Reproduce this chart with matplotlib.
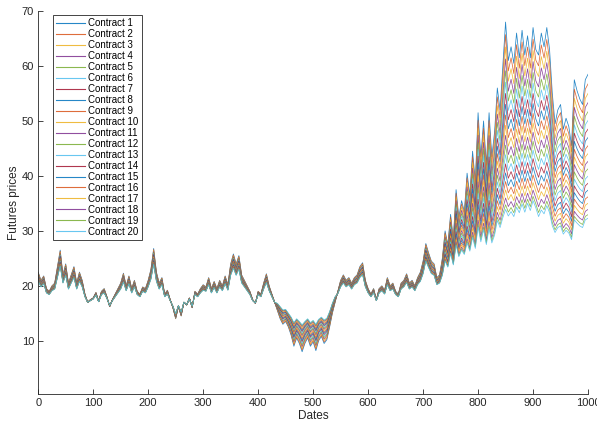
import numpy as np
import matplotlib
matplotlib.use("Agg")
import matplotlib.pyplot as plt

# Sample dates (every 5th date of the 0..1000 range)
dates = np.arange(0, 1001, 5)

# Front contract (Contract 1)
front = [
    22.5, 21.0, 21.8, 19.5, 19.0, 20.0, 20.5, 23.5, 26.5, 22.0, 24.0, 20.5, 22.0, 23.5, 20.5, 22.5, 21.0, 18.5, 17.0, 17.5,
    17.8, 18.8, 17.2, 19.0, 19.5, 18.0, 16.2, 17.5, 18.5, 19.5, 20.5, 22.3, 20.0, 21.8, 19.5, 21.0, 19.0, 18.5, 19.8, 19.5,
    21.0, 23.0, 26.8, 22.5, 20.5, 21.5, 18.5, 19.2, 17.5, 16.0, 14.0, 16.2, 14.5, 17.0, 16.5, 17.8, 16.0, 19.0, 18.5, 19.5,
    20.2, 19.8, 21.5, 19.5, 20.8, 19.5, 21.0, 20.0, 21.8, 20.2, 24.0, 25.8, 24.0, 25.5, 22.0, 21.0, 20.0, 19.0, 17.5, 16.8,
    19.0, 18.5, 20.5, 22.2, 20.0, 18.5, 17.0, 15.5, 14.0, 13.0, 13.5, 12.5, 11.0, 9.0, 10.5, 9.5, 8.0, 9.5, 10.5, 9.0,
    9.8, 8.2, 10.0, 10.8, 9.5, 10.2, 12.5, 15.0, 17.0, 19.0, 21.0, 22.0, 21.0, 21.5, 20.5, 21.5, 22.0, 23.5, 24.2, 21.0,
    19.5, 18.5, 19.5, 17.5, 19.5, 20.0, 19.2, 21.5, 20.0, 20.5, 19.0, 18.5, 20.5, 21.0, 22.2, 20.5, 21.0, 20.0, 21.5, 22.5,
    24.5, 27.7, 26.0, 24.5, 24.0, 21.5, 22.0, 25.0, 30.0, 27.5, 33.0, 28.5, 37.5, 32.5, 35.5, 33.5, 40.5, 36.5, 44.5, 39.0,
    51.5, 43.5, 50.0, 42.0, 51.5, 43.5, 48.0, 56.0, 52.0, 60.0, 68.0, 61.0, 63.5, 60.5, 66.0, 61.5, 66.5, 62.0, 65.5, 61.5,
    67.0, 63.0, 62.0, 66.0, 63.5, 67.0, 63.0, 55.0, 49.5, 52.0, 53.0, 48.5, 50.5, 49.0, 45.5, 57.5, 55.5, 54.0, 53.0, 57.5,
    58.5,
]

# Back contract (Contract 20)
back = [
    20.9, 19.8, 20.4, 18.7, 18.4, 19.1, 19.4, 21.5, 23.6, 20.5, 21.9, 19.4, 20.5, 21.5, 19.4, 20.8, 19.8, 18.0, 17.0, 17.3,
    17.6, 18.3, 17.1, 18.4, 18.7, 17.7, 16.4, 17.3, 18.0, 18.7, 19.4, 20.7, 19.1, 20.4, 18.7, 19.8, 18.4, 18.0, 19.0, 18.7,
    19.8, 21.2, 23.9, 20.8, 19.4, 20.2, 18.0, 18.5, 17.3, 16.3, 14.9, 16.4, 15.2, 17.0, 16.6, 17.6, 16.3, 18.4, 18.0, 18.7,
    19.2, 19.0, 20.2, 18.7, 19.7, 18.7, 19.8, 19.1, 20.4, 19.2, 21.9, 23.2, 21.9, 23.0, 20.5, 19.8, 19.1, 18.4, 17.3, 16.9,
    18.4, 18.0, 19.4, 20.6, 19.1, 18.0, 17.0, 16.8, 16.2, 15.6, 15.7, 15.0, 14.3, 13.3, 14.0, 13.5, 12.9, 13.5, 14.0, 13.3,
    13.7, 13.0, 13.9, 14.3, 13.8, 14.1, 15.3, 16.8, 18.0, 18.6, 19.8, 20.5, 19.8, 20.2, 19.4, 20.2, 20.5, 21.5, 22.0, 19.8,
    18.7, 18.0, 18.7, 17.3, 18.7, 19.1, 18.5, 20.2, 19.1, 19.4, 18.4, 18.0, 19.4, 19.8, 20.6, 19.4, 19.8, 19.1, 20.2, 20.8,
    22.2, 24.5, 23.3, 22.2, 21.9, 20.2, 20.5, 21.9, 24.5, 23.4, 25.9, 23.8, 27.4, 25.3, 26.5, 25.7, 27.8, 26.3, 28.8, 26.8,
    30.7, 28.0, 30.2, 27.5, 30.4, 27.8, 29.2, 31.9, 30.6, 32.4, 33.9, 32.7, 33.5, 32.6, 34.3, 33.3, 34.9, 33.4, 35.0, 33.7,
    35.5, 34.2, 32.6, 33.8, 33.1, 34.6, 33.3, 30.9, 29.7, 30.6, 30.9, 29.4, 30.1, 29.6, 28.4, 32.0, 31.4, 30.9, 30.6, 32.0,
    32.3,
]

# Where each contract sits between front (0) and back (1)
curve_pos = [0.0, 0.067, 0.133, 0.197, 0.260, 0.321, 0.381, 0.439, 0.496, 0.551,
             0.605, 0.657, 0.708, 0.757, 0.805, 0.851, 0.896, 0.939, 0.975, 1.0]
labels = [f"Contract {i}" for i in range(1, 21)]

# MATLAB default colour order
matlab_colors = ["#0072BD", "#D95319", "#EDB120", "#7E2F8E",
                 "#77AC30", "#4DBEEE", "#A2142F"]

plt.rcParams['font.family'] = ['Liberation Sans', 'DejaVu Sans']
axis_gray = "#262626"

fig = plt.figure(figsize=(5.97, 4.26), dpi=100)
ax = fig.add_axes([0.064, 0.075, 0.921, 0.899])

front_arr = np.array(front)
back_arr = np.array(back)
for i, (w, lab) in enumerate(zip(curve_pos, labels)):
    prices = front_arr + w * (back_arr - front_arr)
    ax.plot(dates, prices, color=matlab_colors[i % 7], lw=0.55, alpha=0.85, label=lab)

ax.set_xlim(0, 1000)
ax.set_ylim(0.3, 70)
ax.set_xticks(np.arange(0, 1001, 100))
ax.set_yticks(np.arange(10, 71, 10))
ax.set_xlabel("Dates", fontsize=8.5, color=axis_gray, labelpad=1)
ax.set_ylabel("Futures prices", fontsize=8.5, color=axis_gray, labelpad=1)

for side in ("top", "right"):
    ax.spines[side].set_visible(False)
for side in ("left", "bottom"):
    ax.spines[side].set_color(axis_gray)
    ax.spines[side].set_linewidth(0.6)
ax.tick_params(direction="in", length=3.5, width=0.6, colors=axis_gray,
               labelsize=8, pad=3)

leg = ax.legend(loc="upper left", bbox_to_anchor=(0.027, 0.99), borderaxespad=0,
                fontsize=7, labelspacing=0.1, handlelength=2.9,
                handletextpad=0.35, borderpad=0.35, fancybox=False, framealpha=1)
leg.get_frame().set_edgecolor(axis_gray)
leg.get_frame().set_linewidth(0.6)
for line in leg.get_lines():
    line.set_linewidth(0.8)

fig.savefig("out.png", dpi=100)
